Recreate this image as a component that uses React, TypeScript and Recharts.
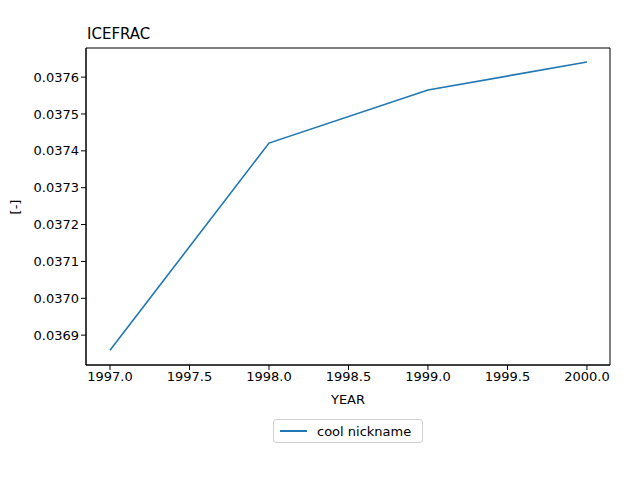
import React from "react";
import { LineChart, Line, XAxis, YAxis, ReferenceArea } from "recharts";

const years = [1997, 1998, 1999, 2000];
const icefrac = [0.036859, 0.037421, 0.037565, 0.037641];
const yTicks = [0.0369, 0.037, 0.0371, 0.0372, 0.0373, 0.0374, 0.0375, 0.0376];
const xTicks = [1997, 1997.5, 1998, 1998.5, 1999, 1999.5, 2000];

const data = years.map((y, i) => ({ year: y, value: icefrac[i] }));

const X_DOMAIN: [number, number] = [1996.849, 2000.145];
const Y_DOMAIN: [number, number] = [0.036819, 0.037679];
const FONT = "'DejaVu Sans', sans-serif";

export default function App() {
  return (
    <div style={{ position: "absolute", left: 0, top: 0, width: 640, height: 480, background: "#fff", fontFamily: FONT }}>
      <LineChart width={640} height={480} data={data} margin={{ top: 48, right: 30, bottom: 85, left: 0 }}>
        <XAxis
          type="number"
          dataKey="year"
          domain={X_DOMAIN}
          allowDataOverflow
          ticks={xTicks}
          tickFormatter={(v: number) => v.toFixed(1)}
          height={30}
          stroke="#000"
          tickSize={5}
          tick={{ fontSize: 13, fill: "#000", fontFamily: FONT }}
        />
        <YAxis
          type="number"
          domain={Y_DOMAIN}
          allowDataOverflow
          ticks={yTicks}
          tickFormatter={(v: number) => v.toFixed(4)}
          width={86}
          stroke="#000"
          tickSize={5}
          tick={{ fontSize: 13, fill: "#000", fontFamily: FONT }}
        />
        <ReferenceArea x1={X_DOMAIN[0]} x2={X_DOMAIN[1]} y1={Y_DOMAIN[0]} y2={Y_DOMAIN[1]} fill="none" stroke="#000" strokeWidth={1} ifOverflow="visible" />
        <Line dataKey="value" stroke="#1f77b4" strokeWidth={1.6} dot={false} isAnimationActive={false} />
      </LineChart>
      <div style={{ position: "absolute", left: 87, top: 25, fontSize: 15, color: "#000" }}>ICEFRAC</div>
      <div style={{ position: "absolute", left: 348, top: 392, transform: "translateX(-50%)", fontSize: 13, color: "#000" }}>YEAR</div>
      <div style={{ position: "absolute", left: 15, top: 207, transform: "translate(-50%, -50%) rotate(-90deg)", fontSize: 13, color: "#000" }}>[-]</div>
      <div
        style={{
          position: "absolute",
          left: 273,
          top: 419,
          width: 150,
          height: 24,
          border: "1px solid #d0d0d0",
          borderRadius: 3,
          boxSizing: "border-box",
          display: "flex",
          alignItems: "center",
          fontSize: 13,
          color: "#000",
        }}
      >
        <span style={{ display: "inline-block", width: 27, height: 2, background: "#1f77b4", marginLeft: 6, marginRight: 10 }} />
        <span>cool nickname</span>
      </div>
    </div>
  );
}
